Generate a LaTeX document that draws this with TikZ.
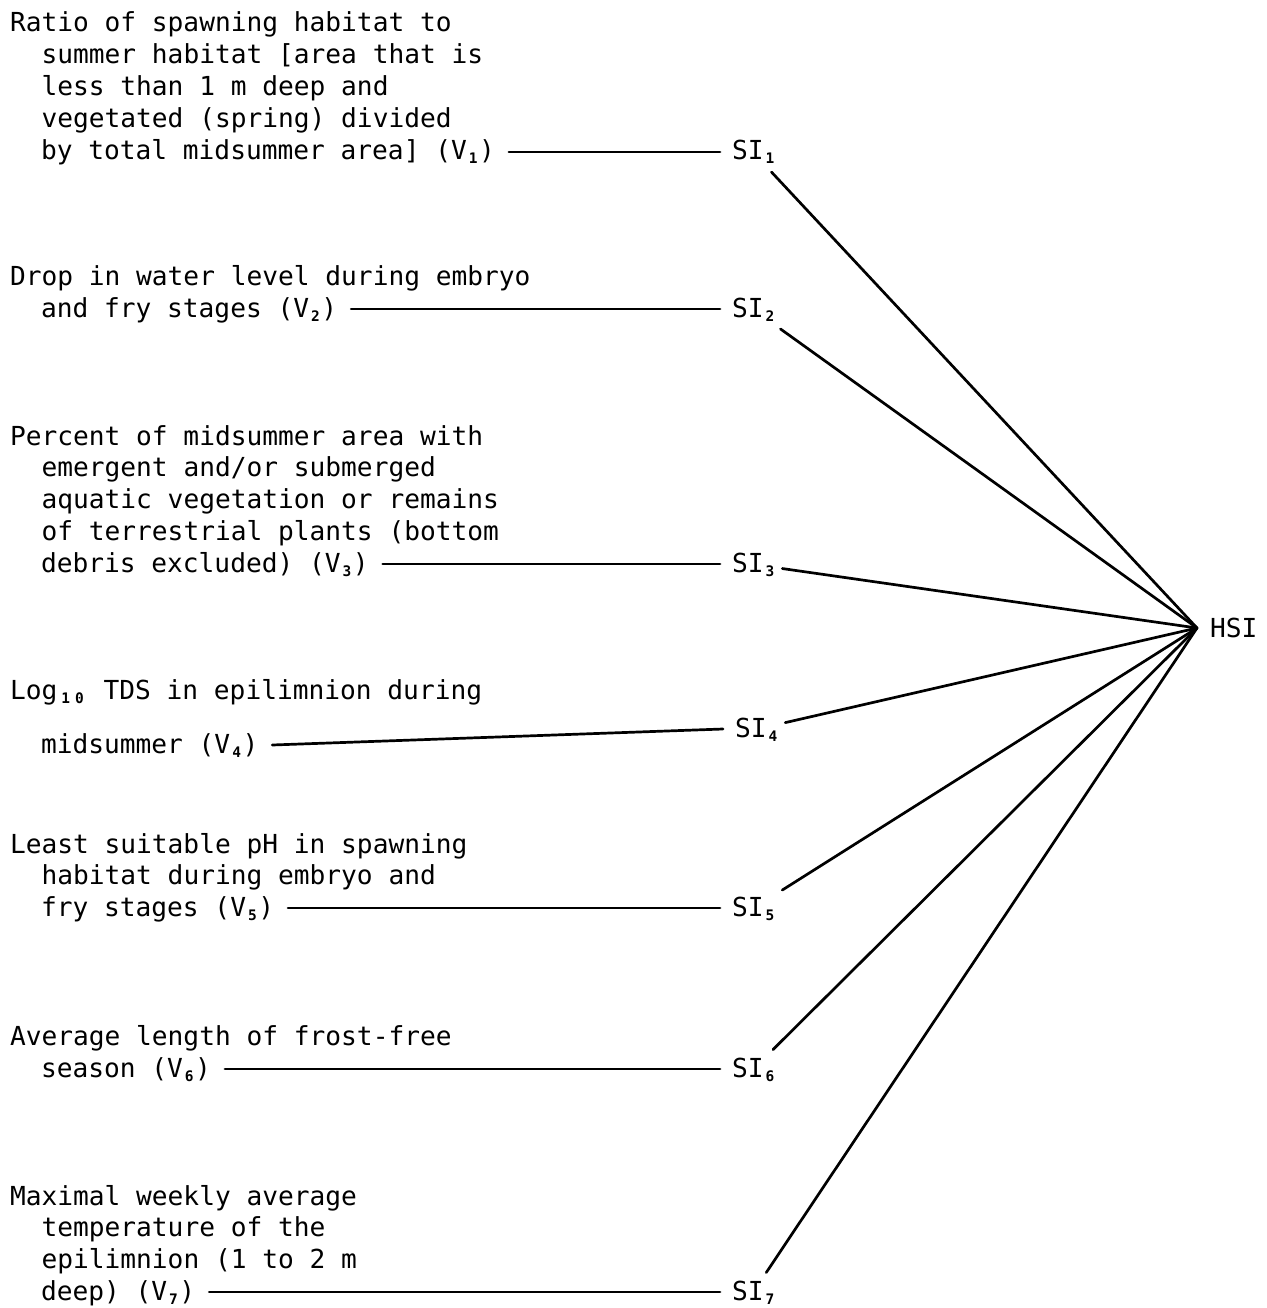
\documentclass[tikz,border=0pt]{standalone}
\usepackage{fontspec}
\newfontfamily\mono{DejaVu Sans Mono}
\newcommand\sbs[1]{\hspace{2pt}\raisebox{-4pt}{\fontsize{14.5}{14.5}\selectfont\bfseries #1}\hspace{1.5pt}}
\newcommand\vv[1]{(V\sbs{#1})}
\newcommand\ind{\phantom{xx}}
\begin{document}
\begin{tikzpicture}[x=1pt,y=1pt,
  txt/.style={inner sep=0pt, outer sep=0pt, anchor=base west, font=\mono\fontsize{26.2}{31.7}\selectfont},
  silab/.style={inner sep=8pt, outer sep=0pt, anchor=base west, font=\mono\fontsize{26.2}{31.7}\selectfont},
  conn/.style={line width=2.7pt, line cap=round}]
\useasboundingbox[fill=white] (0,0) rectangle (1266,-1308);

% block 1
\node[txt] (v1t) at (10,-32) {\vtop{\baselineskip=31.7pt
  \hbox{Ratio of spawning habitat to}
  \hbox{\ind summer habitat [area that is}
  \hbox{\ind less than 1 m deep and}
  \hbox{\ind vegetated (spring) divided}}};
\node[txt] (v1) at (41,-160) {by total midsummer area] \vv{1}};
\node[silab] (s1) at (724,-160) {SI\sbs{1}};

% block 2
\node[txt] (v2t) at (10,-285) {\vtop{\baselineskip=31.7pt
  \hbox{Drop in water level during embryo}}};
\node[txt] (v2) at (41,-317) {and fry stages \vv{2}};
\node[silab] (s2) at (724,-317) {SI\sbs{2}};

% block 3
\node[txt] (v3t) at (10,-445) {\vtop{\baselineskip=31.7pt
  \hbox{Percent of midsummer area with}
  \hbox{\ind emergent and/or submerged}
  \hbox{\ind aquatic vegetation or remains}
  \hbox{\ind of terrestrial plants (bottom}}};
\node[txt] (v3) at (41,-572) {debris excluded) \vv{3}};
\node[silab] (s3) at (724,-572) {SI\sbs{3}};

% block 4
\node[txt] (v4t) at (10,-699) {\vtop{\baselineskip=31.7pt
  \hbox{Log\hspace{4pt}\raisebox{-4pt}{\fontsize{14.5}{14.5}\selectfont\bfseries 1\hspace{5pt}0}\hspace{4pt} TDS in epilimnion during}}};
\node[txt] (v4) at (41,-753) {midsummer \vv{4}};
\node[silab] (s4) at (727,-737) {SI\sbs{4}};

% block 5
\node[txt] (v5t) at (10,-853) {\vtop{\baselineskip=31.7pt
  \hbox{Least suitable pH in spawning}
  \hbox{\ind habitat during embryo and}}};
\node[txt] (v5) at (41,-916) {fry stages \vv{5}};
\node[silab] (s5) at (724,-916) {SI\sbs{5}};

% block 6
\node[txt] (v6t) at (10,-1045) {\vtop{\baselineskip=31.7pt
  \hbox{Average length of frost-free}}};
\node[txt] (v6) at (41,-1077) {season \vv{6}};
\node[silab] (s6) at (724,-1077) {SI\sbs{6}};

% block 7
\node[txt] (v7t) at (10,-1205) {\vtop{\baselineskip=31.7pt
  \hbox{Maximal weekly average}
  \hbox{\ind temperature of the}
  \hbox{\ind epilimnion (1 to 2 m}}};
\node[txt] (v7) at (41,-1300) {deep) \vv{7}};
\node[silab] (s7) at (724,-1300) {SI\sbs{7}};

% HSI
\coordinate (h) at (1197,-628);
\node[txt] (hsi) at (1210,-637) {HSI};

% connectors
\foreach \i in {1,...,7}{
  \draw[conn] ([shift={(14,8)}]v\i.base east) -- ([shift={(-4,8)}]s\i.base west);
  \draw[conn] (s\i) -- (h);
}
\end{tikzpicture}
\end{document}
